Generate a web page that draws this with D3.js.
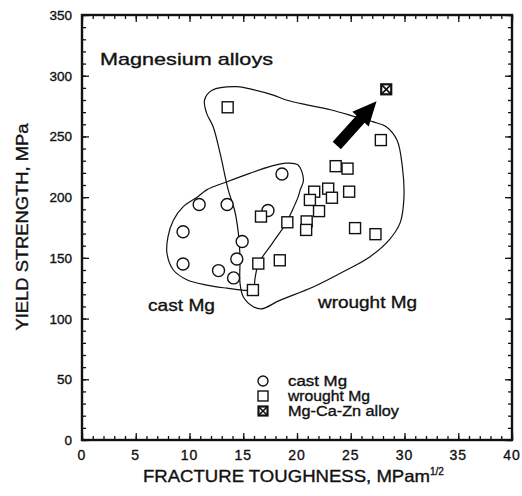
<!DOCTYPE html>
<html>
<head>
<meta charset="utf-8">
<script src="https://cdn.jsdelivr.net/npm/d3@7"></script>
<style>
  body { margin: 0; background: #fff; }
  text { font-family: "Liberation Sans", Arial, sans-serif; fill: #111; stroke: #111; stroke-width: 0.35; }
</style>
</head>
<body>
<script>
// fracture toughness (MPa m^1/2) vs yield strength (MPa)
var castMg = [[10.9, 194], [13.5, 194], [9.4, 171.5], [14.9, 163.5], [9.4, 145],
  [14.4, 149], [12.7, 139.5], [14.1, 133.5], [18.6, 219], [17.3, 189]];

var wroughtMg = [[13.55, 274], [27.8, 247], [23.6, 225.5], [24.7, 223.5], [24.85, 204.5],
  [21.6, 204.5], [22.9, 207], [21.2, 197.7], [23.25, 199.5], [22.05, 188.5],
  [19.1, 179.3], [20.9, 180], [20.85, 173], [25.4, 174.5], [27.3, 169.5],
  [16.65, 184], [16.4, 145.3], [18.4, 148], [15.9, 123.5]];

var mgCaZn = [[28.3, 288.8]];

// region outlines
var wroughtRegion = [[14.4, 291], [12.1, 288], [11.4, 280], [11.6, 269], [12.2, 258],
  [12.85, 236], [13.6, 206], [14.2, 189], [14.55, 170], [14.7, 151], [14.7, 129],
  [15.0, 118], [15.9, 110], [16.7, 108], [18.4, 115], [21.5, 126], [24.6, 140],
  [26.8, 151], [28.6, 165], [29.6, 179], [29.95, 200], [29.8, 225], [29.3, 247],
  [28.3, 258], [27.1, 262], [25.5, 266], [23.1, 272], [20.9, 276], [19.0, 280],
  [17.8, 284], [15.9, 288.5]];

var castRegion = [[19.0, 228], [20.1, 226.5], [20.6, 214], [20.3, 206], [20.1, 200],
  [19.35, 185], [19.07, 179.5], [17.7, 162], [16.4, 145], [16.1, 133.5], [15.9, 123.5],
  [14.9, 123.5], [13.5, 125], [11.6, 127.6], [9.75, 132], [8.5, 140], [7.9, 154],
  [8.0, 167.5], [8.5, 181], [9.4, 192], [10.8, 200.5], [11.6, 206], [13.5, 212.7],
  [15.6, 219.6], [17.6, 225.5]];

var arrowFrom = [23.7, 242.5];
var arrowTo = [27.4, 279];

var xTicks = [0, 5, 10, 15, 20, 25, 30, 35, 40];
var yTicks = [0, 50, 100, 150, 200, 250, 300, 350];
var legendNames = ["cast Mg", "wrought Mg", "Mg-Ca-Zn alloy"];

var w = 522, h = 496;
var padL = 82, padR = 512, padT = 15, padB = 440;

var svg = d3.select("body").append("svg")
  .attr("width", w)
  .attr("height", h);

var x = d3.scaleLinear().domain([0, 40]).range([padL, padR]);
var y = d3.scaleLinear().domain([0, 350]).range([padB, padT]);

// frame with inward ticks on all sides
function tickAxis(axis, pos, minor, major) {
  var g = svg.append("g").attr("transform", pos);
  g.call(axis.tickValues(minor).tickSize(4).tickFormat(""));
  g.append("g").call(axis.tickValues(major).tickSize(7).tickFormat(""));
  g.selectAll("path.domain").remove();
  g.selectAll("line").attr("stroke", "#111").attr("stroke-width", 1.3);
  return g;
}
var xMinor = d3.range(0, 41, 1), yMinor = d3.range(0, 351, 10);
tickAxis(d3.axisTop(x), "translate(0," + padB + ")", xMinor, xTicks);
tickAxis(d3.axisBottom(x), "translate(0," + padT + ")", xMinor, xTicks);
tickAxis(d3.axisRight(y), "translate(" + padL + ",0)", yMinor, yTicks);
tickAxis(d3.axisLeft(y), "translate(" + padR + ",0)", yMinor, yTicks);

svg.append("rect")
  .attr("x", padL).attr("y", padT)
  .attr("width", padR - padL).attr("height", padB - padT)
  .attr("fill", "none").attr("stroke", "#111").attr("stroke-width", 2.4);

// tick labels
svg.append("g").selectAll("text").data(xTicks).enter().append("text")
  .attr("x", function (d) { return x(d); })
  .attr("y", 460)
  .attr("text-anchor", "middle")
  .attr("font-size", 14)
  .attr("letter-spacing", 1)
  .text(function (d) { return d; });

svg.append("g").selectAll("text").data(yTicks).enter().append("text")
  .attr("x", 72)
  .attr("y", function (d) { return y(d) + 5; })
  .attr("text-anchor", "end")
  .attr("font-size", 13.5)
  .text(function (d) { return d; });

// axis titles
var xt = svg.append("text")
  .attr("x", 143).attr("y", 482)
  .attr("font-size", 16.5);
xt.append("tspan").text("FRACTURE TOUGHNESS, MPam")
  .attr("textLength", 287).attr("lengthAdjust", "spacingAndGlyphs");
xt.append("tspan").text("1/2").attr("font-size", 10).attr("dy", -7);

svg.append("text")
  .attr("transform", "translate(28,227) rotate(-90)")
  .attr("text-anchor", "middle")
  .attr("font-size", 16.5)
  .attr("textLength", 207).attr("lengthAdjust", "spacingAndGlyphs")
  .text("YIELD STRENGTH, MPa");

// region outlines
var outline = d3.line()
  .x(function (d) { return x(d[0]); })
  .y(function (d) { return y(d[1]); })
  .curve(d3.curveCatmullRomClosed.alpha(0.5));

svg.append("path").attr("d", outline(wroughtRegion))
  .attr("fill", "none").attr("stroke", "#111").attr("stroke-width", 1.2);
svg.append("path").attr("d", outline(castRegion))
  .attr("fill", "none").attr("stroke", "#111").attr("stroke-width", 1.2);

// labels inside plot
svg.append("text").attr("x", 100).attr("y", 65).attr("font-size", 17)
  .attr("textLength", 173).attr("lengthAdjust", "spacingAndGlyphs")
  .text("Magnesium alloys");
svg.append("text").attr("x", 148).attr("y", 311).attr("font-size", 16.5)
  .attr("textLength", 67).attr("lengthAdjust", "spacingAndGlyphs")
  .text("cast Mg");
svg.append("text").attr("x", 318).attr("y", 308).attr("font-size", 16.5)
  .attr("textLength", 99).attr("lengthAdjust", "spacingAndGlyphs")
  .text("wrought Mg");

// arrow
(function () {
  var x0 = x(arrowFrom[0]), y0 = y(arrowFrom[1]);
  var x1 = x(arrowTo[0]), y1 = y(arrowTo[1]);
  var dx = x1 - x0, dy = y1 - y0, L = Math.sqrt(dx * dx + dy * dy);
  var ux = dx / L, uy = dy / L, nx = -uy, ny = ux;
  var hl = 24, hw = 11, sw = 5.5;
  var bx = x1 - ux * hl, by = y1 - uy * hl;
  var pts = [
    [x0 + nx * sw, y0 + ny * sw], [bx + nx * sw, by + ny * sw], [bx + nx * hw, by + ny * hw],
    [x1, y1], [bx - nx * hw, by - ny * hw], [bx - nx * sw, by - ny * sw], [x0 - nx * sw, y0 - ny * sw]
  ];
  svg.append("polygon").attr("points", pts.map(function (p) { return p.join(","); }).join(" "))
    .attr("fill", "#000");
})();

// markers
function square(g, s) {
  g.append("rect").attr("x", -s / 2).attr("y", -s / 2).attr("width", s).attr("height", s)
    .attr("fill", "#fff").attr("stroke", "#111").attr("stroke-width", 1.4);
}
function crossSquare(g, s) {
  square(g, s);
  g.select("rect").attr("stroke-width", 2.2);
  g.append("path").attr("d", "M" + (-s / 2) + "," + (-s / 2) + "L" + (s / 2) + "," + (s / 2) +
    "M" + (s / 2) + "," + (-s / 2) + "L" + (-s / 2) + "," + (s / 2))
    .attr("stroke", "#111").attr("stroke-width", 1.6);
}
function circle(g, r) {
  g.append("circle").attr("r", r).attr("fill", "#fff").attr("stroke", "#111").attr("stroke-width", 1.4);
}

svg.append("g").selectAll("g").data(castMg).enter().append("g")
  .attr("transform", function (d) { return "translate(" + x(d[0]) + "," + y(d[1]) + ")"; })
  .each(function () { circle(d3.select(this), 6); });

svg.append("g").selectAll("g").data(wroughtMg).enter().append("g")
  .attr("transform", function (d) { return "translate(" + x(d[0]) + "," + y(d[1]) + ")"; })
  .each(function () { square(d3.select(this), 11); });

svg.append("g").selectAll("g").data(mgCaZn).enter().append("g")
  .attr("transform", function (d) { return "translate(" + x(d[0]) + "," + y(d[1]) + ")"; })
  .each(function () { crossSquare(d3.select(this), 10); });

// legend
var leg = svg.append("g").selectAll("g").data(legendNames).enter().append("g")
  .attr("transform", function (d, i) { return "translate(263," + (381 + i * 15) + ")"; });
leg.each(function (d, i) {
  var g = d3.select(this);
  if (i === 0) circle(g, 5);
  else if (i === 1) square(g, 10);
  else crossSquare(g, 9);
});
leg.append("text")
  .attr("x", 25).attr("y", 5)
  .attr("font-size", 14)
  .attr("textLength", function (d, i) { return [59, 82, 111][i]; })
  .attr("lengthAdjust", "spacingAndGlyphs")
  .text(function (d) { return d; });
</script>
</body>
</html>
